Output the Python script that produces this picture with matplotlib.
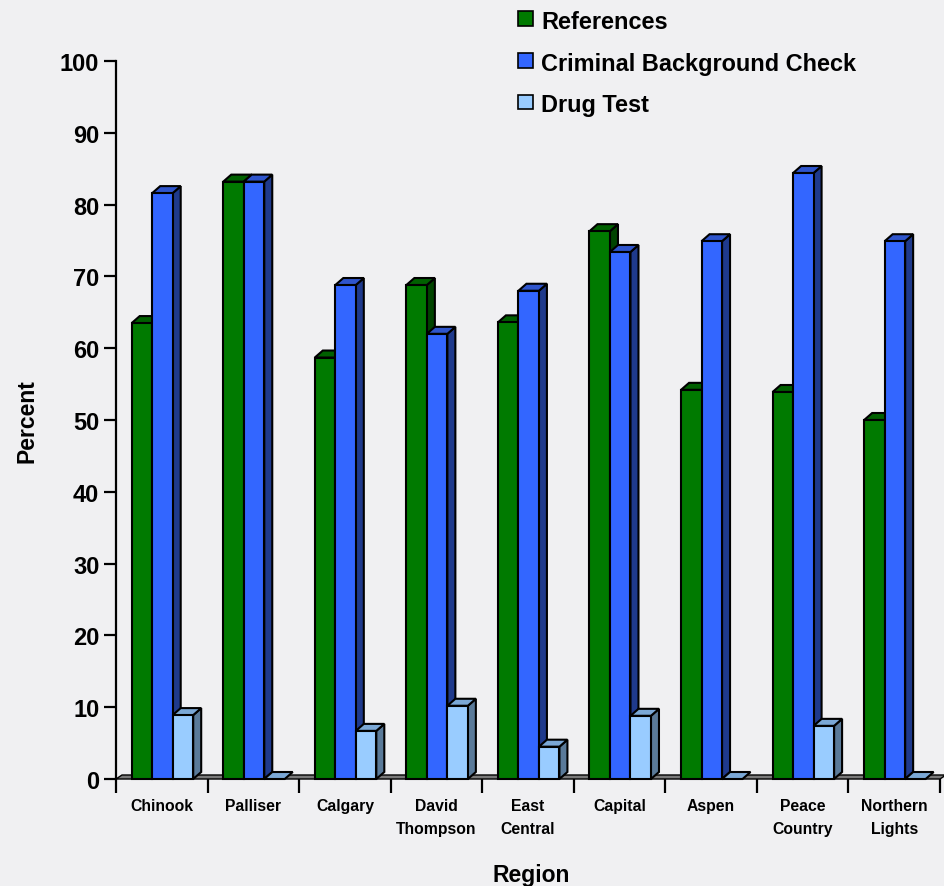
import matplotlib
matplotlib.use("Agg")
import matplotlib.pyplot as plt
from matplotlib.patches import Polygon, Rectangle

plt.rcParams['font.family'] = ['Liberation Sans', 'DejaVu Sans']
plt.rcParams['font.weight'] = 'bold'

regions = ["Chinook", "Palliser", "Calgary", "David\nThompson", "East\nCentral",
           "Capital", "Aspen", "Peace\nCountry", "Northern\nLights"]
series_names = ["References", "Criminal Background Check", "Drug Test"]
references = [63.5, 83.2, 58.7, 68.8, 63.6, 76.3, 54.2, 53.9, 50.0]
criminal_check = [81.6, 83.2, 68.8, 62.0, 68.0, 73.4, 74.9, 84.4, 74.9]
drug_test = [8.9, 0, 6.7, 10.2, 4.5, 8.8, 0, 7.4, 0]
y_ticks = list(range(0, 101, 10))

# front, side, top colours for each series
palettes = [
    ("#007A00", "#004400", "#006000"),
    ("#3366FF", "#1F3A8C", "#2F55CC"),
    ("#99CCFF", "#5A7A99", "#7BA8D6"),
]
BG = "#F0F0F2"

W, H = 945, 887
fig = plt.figure(figsize=(W / 100, H / 100), dpi=100, facecolor=BG)
ax_left, ax_right, ax_top, ax_bottom = 116, 940, 62, 780
ax = fig.add_axes([ax_left / W, 1 - ax_bottom / H,
                   (ax_right - ax_left) / W, (ax_bottom - ax_top) / H])
ax.set_facecolor(BG)
n = len(regions)
ax.set_xlim(0, n)
ax.set_ylim(0, 100)

px_x = n / (ax_right - ax_left)      # data units per pixel (x)
px_y = 100 / (ax_bottom - ax_top)    # data units per pixel (y)
dx, dy = 8 * px_x, 7 * px_y          # 3D depth offset
bar_w = 20.5 * px_x
offset = 15.7 * px_x
lw = 1.5

# floor slab
fdx, fdy = 6 * px_x, 4 * px_y
ax.add_patch(Polygon([(0, 0), (n, 0), (n + fdx, fdy), (fdx, fdy)], closed=True,
                     facecolor="#7A7A7A", edgecolor="black", lw=1.0,
                     clip_on=False, zorder=2))

all_series = [references, criminal_check, drug_test]
for g in range(n):
    for s, values in enumerate(all_series):
        h = values[g]
        front, side, top = palettes[s]
        x0 = g + offset + s * bar_w
        x1 = x0 + bar_w
        z = 3 + g * 3 + s
        if h > 0:
            ax.add_patch(Polygon([(x1, 0), (x1 + dx, dy), (x1 + dx, h + dy), (x1, h)],
                                 closed=True, facecolor=side, edgecolor="black",
                                 lw=lw, clip_on=False, zorder=z))
        ax.add_patch(Polygon([(x0, h), (x0 + dx, h + dy), (x1 + dx, h + dy), (x1, h)],
                             closed=True, facecolor=top, edgecolor="black",
                             lw=lw, clip_on=False, zorder=z))
        if h > 0:
            ax.add_patch(Rectangle((x0, 0), bar_w, h, facecolor=front,
                                   edgecolor="black", lw=lw, clip_on=False, zorder=z))

for sp in ["top", "right", "bottom"]:
    ax.spines[sp].set_visible(False)
ax.spines["left"].set_linewidth(1.6)
ax.spines["left"].set_zorder(1)

ax.set_yticks(y_ticks)
ax.set_yticklabels([str(t) for t in y_ticks], fontsize=17, fontweight="bold")
ax.tick_params(axis="y", length=9, width=1.6, direction="out", pad=3)

ax.set_xticks(range(n + 1))
ax.set_xticklabels([""] * (n + 1))
ax.tick_params(axis="x", which="major", length=10, width=1.6, direction="out")
ax.set_xticks([i + 0.5 for i in range(n)], minor=True)
ax.set_xticklabels(regions, minor=True, fontsize=11.3, fontweight="bold",
                   linespacing=1.6)
ax.tick_params(axis="x", which="minor", length=0, pad=14)

fig.text(531 / W, 1 - 876 / H, "Region", ha="center", va="center",
         fontsize=16.5, fontweight="bold")
fig.text(27 / W, 1 - 421 / H, "Percent", ha="center", va="center",
         rotation=90, fontsize=16.5, fontweight="bold")

# legend
rows = [19.7, 61.7, 103]
for name, (front, _, _), yc in zip(series_names, palettes, rows):
    sq = 14.5
    fig.patches.append(Rectangle((518 / W, 1 - (yc + sq / 2) / H), sq / W, sq / H,
                                 transform=fig.transFigure, facecolor=front,
                                 edgecolor="black", lw=1.2))
    fig.text(541 / W, 1 - yc / H, name, ha="left", va="center_baseline",
             fontsize=16.9, fontweight="bold")

fig.savefig("out.png", dpi=100, facecolor=BG)
